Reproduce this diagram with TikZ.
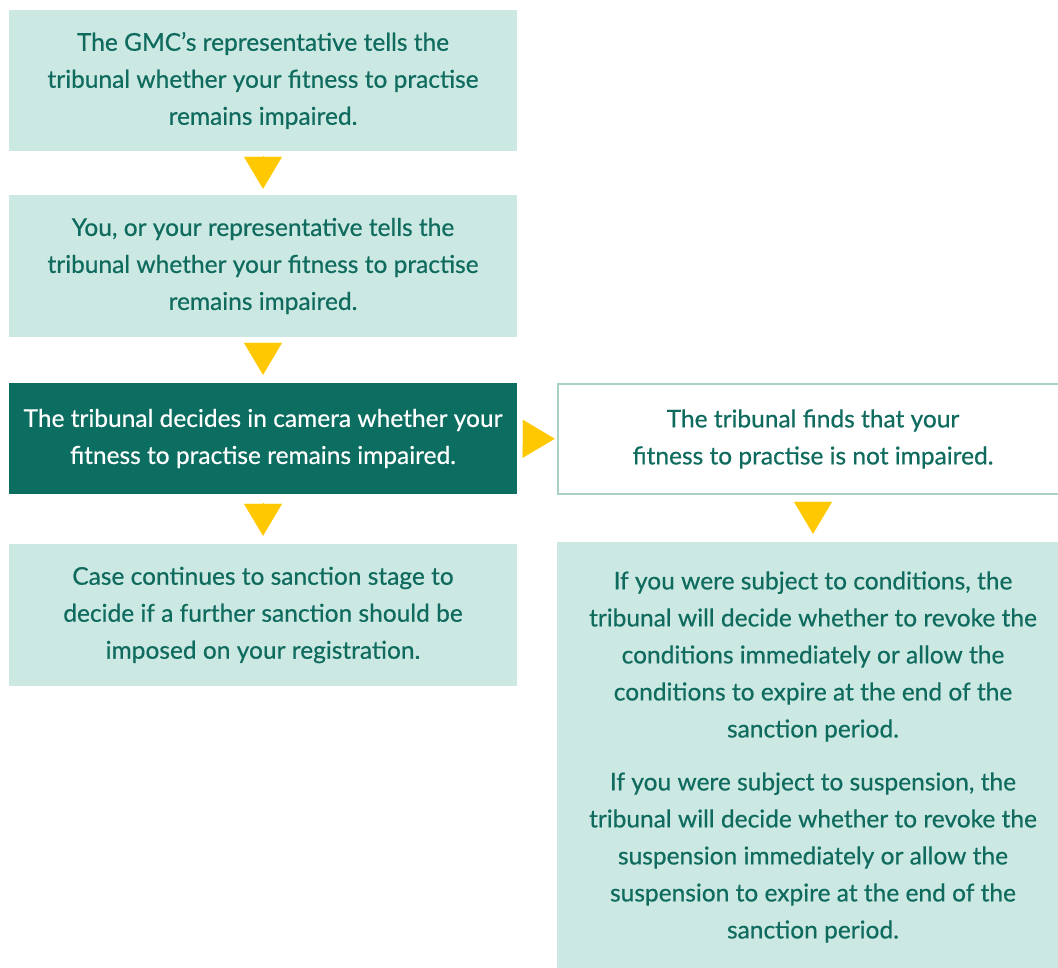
\documentclass[tikz,border=0pt]{standalone}
\usepackage{fontspec}
\setmainfont{Lato}[FakeBold=0.5]
\usetikzlibrary{arrows.meta}

\definecolor{boxfill}{RGB}{204,232,226}
\definecolor{darkteal}{RGB}{11,110,97}
\definecolor{tealtext}{RGB}{14,107,94}
\definecolor{arrowyellow}{RGB}{255,200,0}
\definecolor{boxline}{RGB}{168,208,199}

\tikzset{
  stage/.style={fill=boxfill,text=tealtext,align=center,inner sep=0pt,font=\fontsize{24.5}{37}\selectfont},
  tri/.style={-{Triangle[width=38pt,length=32pt]},color=arrowyellow,line width=0.2pt}
}

\begin{document}
\begin{tikzpicture}[x=1pt,y=-1pt]
			\useasboundingbox (0,0) rectangle (1058,968);
			\node[stage,minimum width=508pt,minimum height=141pt] (gmc) at (263,80.5){The GMC’s representative tells the\\tribunal whether your fitness to practise\\remains impaired.};
			\node[stage,minimum width=508pt,minimum height=142pt] (you) at (263,266){You, or your representative tells the\\tribunal whether your fitness to practise\\remains impaired.};
			\node[stage,fill=darkteal,text=white,minimum width=508pt,minimum height=111pt] (camera) at (263,438.5){The tribunal decides in camera whether your\\fitness to practise remains impaired.};
			\node[stage,fill=white,draw=boxline,line width=2.5pt,minimum width=510pt,minimum height=110pt] (notimp) at (813,439){The tribunal finds that your\\fitness to practise is not impaired.};
			\node[stage,minimum width=508pt,minimum height=142pt] (sanction) at (263,615){Case continues to sanction stage to\\decide if a further sanction should be\\imposed on your registration.};
			\node[stage,minimum width=512pt,minimum height=430pt] (revoke) at (813,757){If you were subject to conditions, the\\tribunal will decide whether to revoke the\\conditions immediately or allow the\\conditions to expire at the end of the\\sanction period.\\[16pt]If you were subject to suspension, the\\tribunal will decide whether to revoke the\\suspension immediately or allow the\\suspension to expire at the end of the\\sanction period.};
			\draw (gmc) edge [tri, shorten <=5pt, shorten >=6pt] (you);
			\draw (you) edge [tri, shorten <=6pt, shorten >=8pt] (camera);
			\draw (camera) edge [tri, shorten <=9pt, shorten >=8pt] (sanction);
			\draw (camera) edge [tri, shorten <=6pt, shorten >=2pt] (notimp);
			\draw (notimp) edge [tri, shorten <=7pt, shorten >=8pt] (revoke);
		\end{tikzpicture}
\end{document}
